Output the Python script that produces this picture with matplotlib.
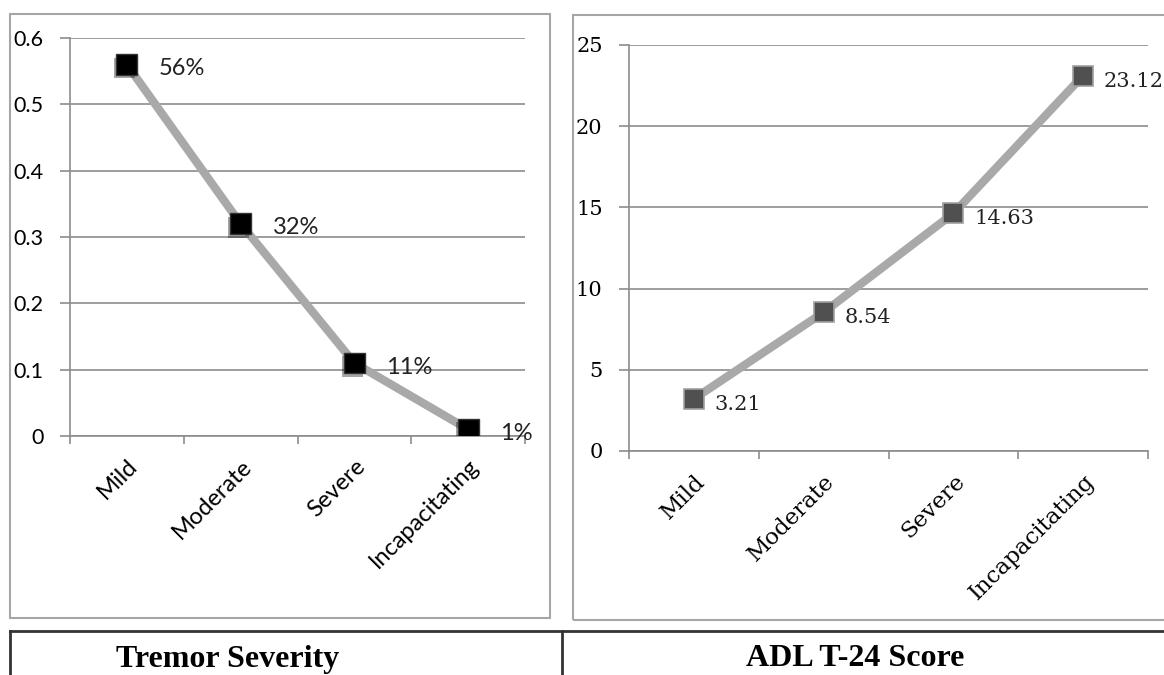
import matplotlib.pyplot as plt
import matplotlib.patches as patches
import matplotlib.patheffects as pe
from matplotlib.lines import Line2D

# data
categories = ['Mild', 'Moderate', 'Severe', 'Incapacitating']
tremor_share = [0.56, 0.32, 0.11, 0.01]
tremor_labels = ['56%', '32%', '11%', '1%']
adl_score = [3.21, 8.54, 14.63, 23.12]
adl_labels = ['3.21', '8.54', '14.63', '23.12']
tremor_ticks = [0, 0.1, 0.2, 0.3, 0.4, 0.5, 0.6]
adl_ticks = [0, 5, 10, 15, 20, 25]
headers = ['Tremor Severity', 'ADL T-24 Score']

W, H = 1164, 675
GRID = '#8c8c8c'
LINE = '#a9a9a9'


def px_axes(fig, x0, y0, x1, y1):
    ''' axes from pixel box (top-left origin) '''
    return fig.add_axes([x0 / W, 1 - y1 / H, (x1 - x0) / W, (y1 - y0) / H])


def style_axes(ax, yticks, font, size, xsize):
    ax.set_xlim(-0.5, len(categories) - 0.5)
    ax.set_ylim(yticks[0], yticks[-1])
    ax.set_yticks(yticks)
    ax.set_yticklabels([('%g' % t) for t in yticks], family=font, fontsize=size)
    ax.yaxis.grid(True, color=GRID, linewidth=1.2)
    ax.set_axisbelow(True)
    for s in ['top', 'right']:
        ax.spines[s].set_visible(False)
    for s in ['left', 'bottom']:
        ax.spines[s].set_color(GRID)
        ax.spines[s].set_linewidth(1.2)
    ax.tick_params(axis='y', length=7, color=GRID, width=1.2, pad=12)
    # category labels centred, tick marks between categories
    ax.set_xticks(range(len(categories)))
    ax.set_xticklabels(categories, rotation=45, ha='right', va='top',
                       rotation_mode='anchor', family=font, fontsize=xsize)
    ax.tick_params(axis='x', length=0, pad=14)
    ax.set_xticks([i - 0.5 for i in range(len(categories) + 1)], minor=True)
    ax.tick_params(axis='x', which='minor', length=6, color=GRID, width=1.2)
    ax.patch.set_alpha(0)


fig = plt.figure(figsize=(W / 100, H / 100), dpi=100)

# chart frames
fig.patches.append(patches.Rectangle((10 / W, 1 - 618 / H), 540 / W, 604 / H,
                                     transform=fig.transFigure, fill=False,
                                     edgecolor='#a6a6a6', linewidth=1.5))
fig.patches.append(patches.Rectangle((573 / W, 1 - 620 / H), 620 / W, 605 / H,
                                     transform=fig.transFigure, fill=False,
                                     edgecolor='#a6a6a6', linewidth=1.5))

# left chart: tremor severity
ax1 = px_axes(fig, 70, 38, 525, 436)
style_axes(ax1, tremor_ticks, 'Lato', 15.5, 17)
ax1.plot(range(4), tremor_share, color=LINE, linewidth=6, zorder=3,
         solid_capstyle='round')
ax1.plot(range(4), tremor_share, linestyle='none', marker='s', markersize=15,
         color='black', markeredgecolor='#333333', zorder=4,
         path_effects=[pe.SimplePatchShadow(offset=(-1.5, -2.5), alpha=0.35),
                       pe.Normal()])
for i, (v, lab) in enumerate(zip(tremor_share, tremor_labels)):
    ax1.annotate(lab, (i, v), xytext=(23, -3), textcoords='offset points',
                 ha='left', va='center', family='Lato', fontsize=17,
                 color='#222222', zorder=5)

# right chart: ADL T-24 score
ax2 = px_axes(fig, 629, 45, 1148, 451)
style_axes(ax2, adl_ticks, 'DejaVu Serif', 15, 16.5)
ax2.plot(range(4), adl_score, color=LINE, linewidth=6, zorder=3)
ax2.plot(range(4), adl_score, linestyle='none', marker='s', markersize=15,
         color='#505050', markeredgecolor='#a0a0a0', markeredgewidth=1.2,
         zorder=4)
for i, (v, lab) in enumerate(zip(adl_score, adl_labels)):
    ax2.annotate(lab, (i, v), xytext=(15, -4), textcoords='offset points',
                 ha='left', va='center', family='DejaVu Serif', fontsize=15,
                 color='#222222', zorder=5)

# table header row below the charts
tbl = '#333333'
fig.add_artist(Line2D([10 / W, 1], [1 - 631 / H, 1 - 631 / H],
                      color=tbl, linewidth=2))
fig.add_artist(Line2D([10 / W, 10 / W], [0, 1 - 631 / H], color=tbl, linewidth=2))
fig.add_artist(Line2D([562 / W, 562 / W], [0, 1 - 631 / H], color=tbl, linewidth=2))
fig.text(228 / W, 1 - 659 / H, headers[0], ha='center', va='center',
         family='Liberation Serif', fontweight='bold', fontsize=23)
fig.text(855 / W, 1 - 659 / H, headers[1], ha='center', va='center',
         family='Liberation Serif', fontweight='bold', fontsize=23)

plt.savefig('out.png', dpi=100)
